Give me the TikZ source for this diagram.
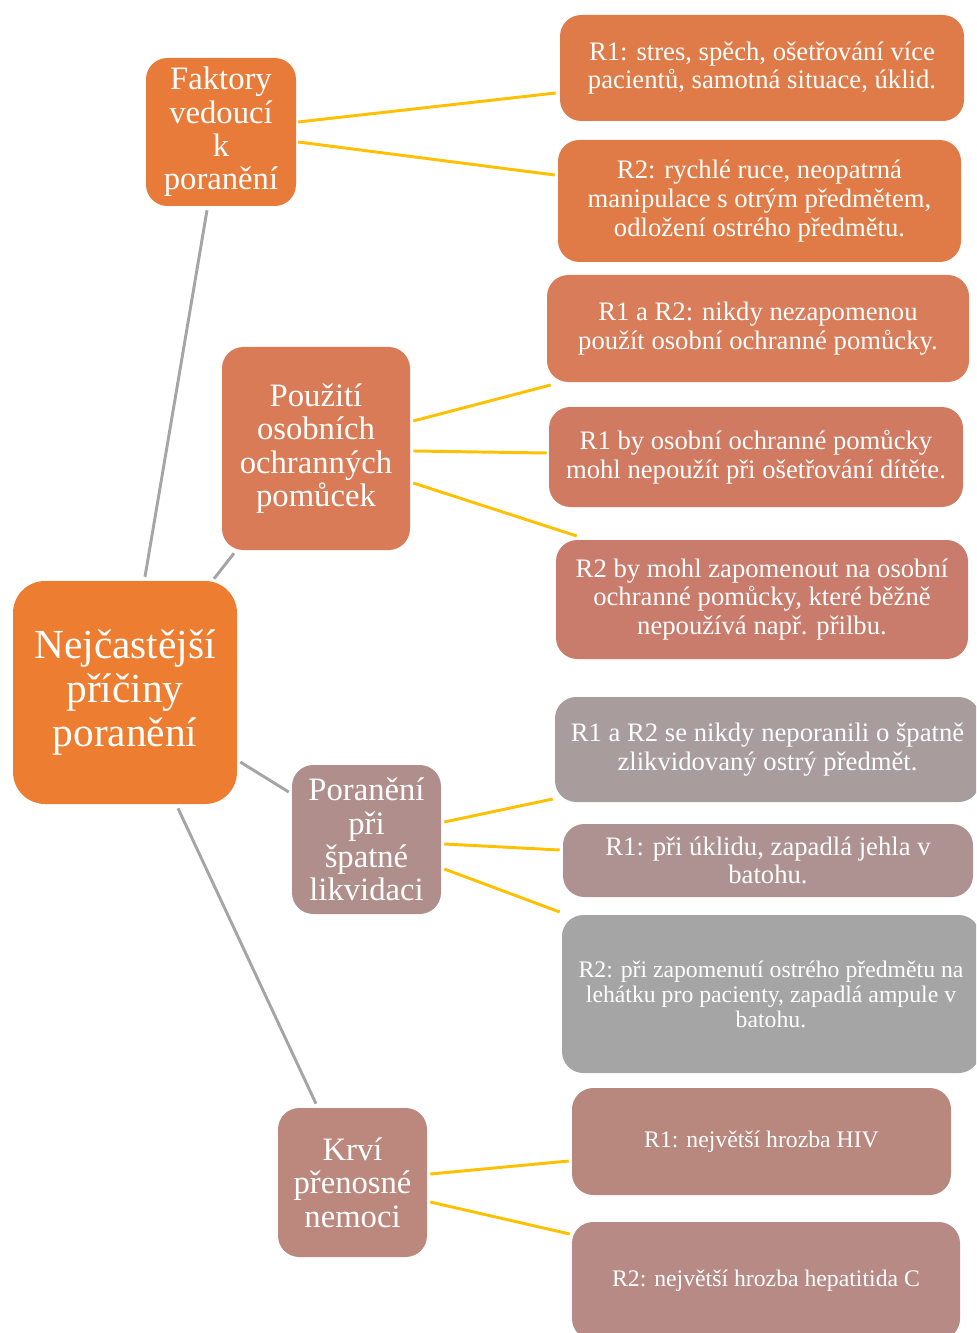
\documentclass[tikz,border=0pt]{standalone}
\usepackage{fontspec}
\setmainfont{Liberation Serif}
\usetikzlibrary{calc}
\definecolor{cmain}{HTML}{ED7D31}
\definecolor{cfak}{HTML}{E97B3A}
\definecolor{cfa}{HTML}{DE7B48}
\definecolor{cfb}{HTML}{E07B47}
\definecolor{cpou}{HTML}{D97B57}
\definecolor{cpa}{HTML}{D87C5A}
\definecolor{cpb}{HTML}{D07A62}
\definecolor{cpc}{HTML}{C97B6C}
\definecolor{cpor}{HTML}{B08E8B}
\definecolor{cra}{HTML}{A89C9C}
\definecolor{crb}{HTML}{AE9292}
\definecolor{crc}{HTML}{A5A5A5}
\definecolor{ckr}{HTML}{BC887E}
\definecolor{cka}{HTML}{B8877E}
\definecolor{ckb}{HTML}{B78A85}
\definecolor{cgray}{HTML}{A5A5A5}
\definecolor{cgold}{HTML}{FFC000}
\tikzset{
  box/.style={rectangle, draw=none, text=white, align=center, inner sep=0pt, rounded corners=16},
  bigbox/.style={box, rounded corners=24},
  midtxt/.style={font=\fontsize{24.5}{25}\selectfont},
  smtxt/.style={font=\fontsize{20}{21.5}\selectfont},
  xstxt/.style={font=\fontsize{17.8}{18.7}\selectfont},
  grayline/.style={draw=cgray, line width=2.2pt},
  goldline/.style={draw=cgold, line width=2.2pt},
}
\begin{document}
\begin{tikzpicture}[x=0.75pt,y=-0.75pt]
\clip (0,0) rectangle (976,1333);
\useasboundingbox (0,0) rectangle (976,1333);
% main
\node[bigbox, fill=cmain, minimum width=224*0.75pt, minimum height=223*0.75pt, font=\fontsize{31}{33}\selectfont] (main) at (125,692.5) {Nejčastější\\příčiny\\poranění};
% level 1
\node[box, fill=cfak, minimum width=150*0.75pt, minimum height=148*0.75pt, midtxt] (fak) at (221,132) {Faktory\\vedoucí\\k\\poranění};
\node[box, fill=cpou, minimum width=188*0.75pt, minimum height=203*0.75pt, midtxt] (pou) at (316,448.5) {Použití\\osobních\\ochranných\\pomůcek};
\node[box, fill=cpor, minimum width=149*0.75pt, minimum height=149*0.75pt, midtxt] (por) at (366.5,839.5) {Poranění\\při\\špatné\\likvidaci};
\node[box, fill=ckr, minimum width=149*0.75pt, minimum height=149*0.75pt, midtxt] (kr) at (352.5,1182.5) {Krví\\přenosné\\nemoci};
% level 2
\node[box, fill=cfa, minimum width=404*0.75pt, minimum height=106*0.75pt, smtxt] (fa) at (762,68) {R1: stres, spěch, ošetřování více\\pacientů, samotná situace, úklid.};
\node[box, fill=cfb, minimum width=403*0.75pt, minimum height=122*0.75pt, smtxt] (fb) at (759.5,201) {R2: rychlé ruce, neopatrná\\manipulace s otrým předmětem,\\odložení ostrého předmětu.};
\node[box, fill=cpa, minimum width=422*0.75pt, minimum height=107*0.75pt, smtxt] (pa) at (758,328.5) {R1 a R2: nikdy nezapomenou\\použít osobní ochranné pomůcky.};
\node[box, fill=cpb, minimum width=414*0.75pt, minimum height=100*0.75pt, smtxt] (pb) at (756,457) {R1 by osobní ochranné pomůcky\\mohl nepoužít při ošetřování dítěte.};
\node[box, fill=cpc, minimum width=412*0.75pt, minimum height=119*0.75pt, smtxt] (pc) at (762,599.5) {R2 by mohl zapomenout na osobní\\ochranné pomůcky, které běžně\\nepoužívá např. přilbu.};
\node[box, fill=cra, minimum width=425*0.75pt, minimum height=105*0.75pt, smtxt] (ra) at (767.5,749.5) {R1 a R2 se nikdy neporanili o špatně\\zlikvidovaný ostrý předmět.};
\node[box, fill=crb, minimum width=410*0.75pt, minimum height=73*0.75pt, smtxt] (rb) at (768,860.5) {R1: při úklidu, zapadlá jehla v\\batohu.};
\node[box, fill=crc, minimum width=418*0.75pt, minimum height=158*0.75pt, xstxt] (rc) at (771,994) {R2: při zapomenutí ostrého předmětu na\\lehátku pro pacienty, zapadlá ampule v\\batohu.};
\node[box, fill=cka, minimum width=379*0.75pt, minimum height=107*0.75pt, xstxt] (ka) at (761.5,1141.5) {R1: největší hrozba HIV};
\node[box, fill=ckb, minimum width=388*0.75pt, minimum height=118*0.75pt, xstxt] (kb) at (766,1281) {R2: největší hrozba hepatitida C};
% gray connectors
\draw[grayline] ($(main.north)+(20,-4)$) -- ($(fak.south)+(-14,4)$);
\draw[grayline] ($(main.north)+(89,-2)$) -- ($(pou.south)+(-82,3)$);
\draw[grayline] ($(main.east)+(3,69.5)$) -- ($(por.west)+(-3,-47.5)$);
\draw[grayline] ($(main.south)+(53,4)$) -- ($(kr.north)+(-36.5,-4)$);
% gold connectors
\draw[goldline] ($(fak.east)+(2,-10)$) -- ($(fa.west)+(-4,25)$);
\draw[goldline] ($(fak.east)+(2,10)$) -- ($(fb.west)+(-3,-26)$);
\draw[goldline] ($(pou.east)+(3,-27.5)$) -- ($(pa.west)+(4,56.5)$);
\draw[goldline] ($(pou.east)+(3,2.5)$) -- ($(pb.west)+(-2,-4)$);
\draw[goldline] ($(pou.east)+(3,34.5)$) -- ($(pc.west)+(21,-63.5)$);
\draw[goldline] ($(por.east)+(3,-17.5)$) -- ($(ra.west)+(-2,49.5)$);
\draw[goldline] ($(por.east)+(3,4.5)$) -- ($(rb.west)+(-3,-10.5)$);
\draw[goldline] ($(por.east)+(3,29.5)$) -- ($(rc.west)+(-2,-82)$);
\draw[goldline] ($(kr.east)+(3,-8.5)$) -- ($(ka.west)+(-3,19.5)$);
\draw[goldline] ($(kr.east)+(3,19.5)$) -- ($(kb.west)+(-2,-47)$);
\end{tikzpicture}
\end{document}
